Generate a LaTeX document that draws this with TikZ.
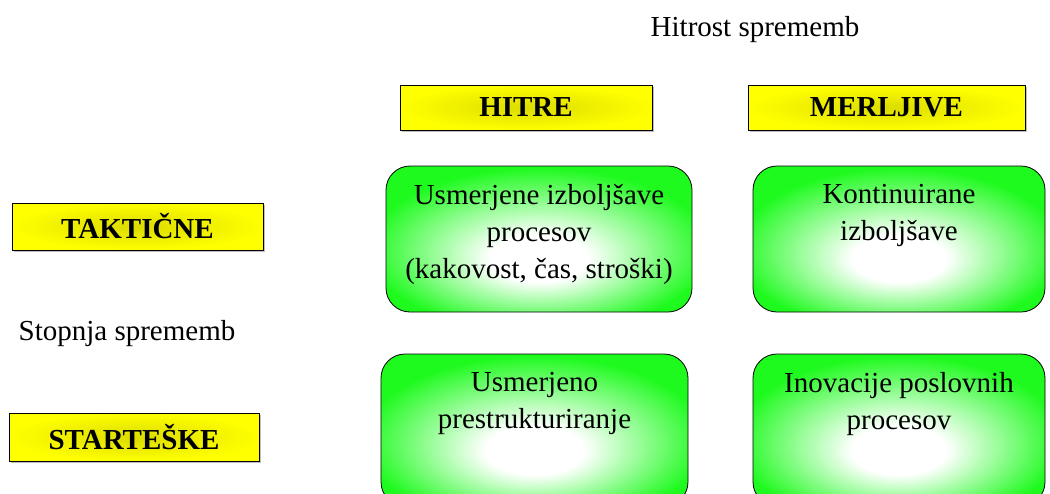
\documentclass[tikz,border=0pt]{standalone}
\usepackage{fontspec}
\setmainfont{Liberation Serif}
\usetikzlibrary{shadows}
\definecolor{boxgreen}{RGB}{30,250,30}
\definecolor{boxyellow}{RGB}{255,255,0}
\definecolor{darkyellow}{RGB}{220,220,0}
\pgfdeclareradialshading{greenglow}{\pgfpoint{0bp}{-8bp}}{color(0bp)=(white); color(8bp)=(white); color(28bp)=(boxgreen); color(50bp)=(boxgreen)}
\tikzset{
  yellowbox/.style={draw=black, inner sep=0pt, inner color=darkyellow, outer color=boxyellow,
    font=\fontsize{14.5}{18.5}\selectfont\bfseries, drop shadow={shadow xshift=1pt, shadow yshift=-1pt, fill=gray!50, opacity=1}},
  greenbox/.style={draw=black, rounded corners=12pt, shading=greenglow, inner sep=0pt},
  boxtext/.style={anchor=north, align=center, inner sep=0pt}
}
\begin{document}
\begin{tikzpicture}[font=\fontsize{14.5}{18.5}\selectfont, x=0.5pt, y=-0.5pt]
\clip (0,0) rectangle (1050,493);
\node (speed) at (755,30) {Hitrost sprememb};
\node (degree) at (127,334) {Stopnja sprememb};
\node[yellowbox, minimum width=126pt, minimum height=22.5pt] (fast) at (526,107.5) {HITRE};
\node[yellowbox, minimum width=138.5pt, minimum height=22.5pt] (measurable) at (886.5,107.5) {MERLJIVE};
\node[yellowbox, minimum width=125.5pt, minimum height=23.5pt] (tactical) at (137.5,226.5) {TAKTIČNE};
\node[yellowbox, minimum width=125pt, minimum height=24pt] (strategic) at (134,437) {STARTEŠKE};
\node[greenbox, minimum width=153pt, minimum height=73pt] (focused) at (539,239) {};
\node[greenbox, minimum width=146pt, minimum height=73pt] (continuous) at (899,239) {};
\node[greenbox, minimum width=153.5pt, minimum height=76pt] (restructure) at (534.5,430) {};
\node[greenbox, minimum width=146pt, minimum height=76pt] (innovation) at (899,430) {};
\node[boxtext] (focusedtext) at ([yshift=-9pt]focused.north) {Usmerjene izboljšave\\procesov\\(kakovost, čas, stroški)};
\node[boxtext] (continuoustext) at ([yshift=-9pt]continuous.north) {Kontinuirane\\izboljšave};
\node[boxtext] (restructuretext) at ([yshift=-9pt]restructure.north) {Usmerjeno\\prestrukturiranje};
\node[boxtext] (innovationtext) at ([yshift=-9pt]innovation.north) {Inovacije poslovnih\\procesov};
\end{tikzpicture}
\end{document}
